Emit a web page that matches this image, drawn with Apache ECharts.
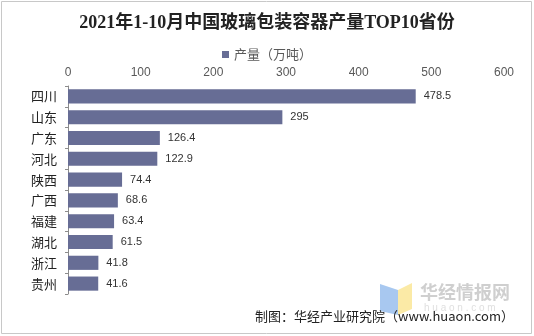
<!DOCTYPE html>
<html><head><meta charset="utf-8">
<script src="https://cdn.jsdelivr.net/npm/echarts@6/dist/echarts.min.js"></script>
<style>html,body{margin:0;padding:0;background:#fff}#c{width:534px;height:336px}</style>
</head><body><div id="c"></div>
<script>
const categories = ['四川','山东','广东','河北','陕西','广西','福建','湖北','浙江','贵州'];
const values = [478.5, 295, 126.4, 122.9, 74.4, 68.6, 63.4, 61.5, 41.8, 41.6];
const xTicks = [0, 100, 200, 300, 400, 500, 600];
const seriesName = '产量（万吨）';
const titleText = '2021年1-10月中国玻璃包装容器产量TOP10省份';
const sourceText = '制图：华经产业研究院（www.huaon.com）';

const chart = echarts.init(document.getElementById('c'), null, {renderer:'canvas'});
chart.setOption({
  animation: false,
  backgroundColor: '#fff',
  title: {
    text: titleText, left: 'center', top: 9,
    textStyle: {fontFamily: '"Liberation Serif","DejaVu Serif","Noto Sans CJK SC",serif', fontWeight: 'bold', fontSize: 18, color: '#222'}
  },
  legend: {
    data: [seriesName], top: 43, left: 'center', itemWidth: 7, itemHeight: 7, itemGap: 4,
    icon: 'rect',
    textStyle: {fontFamily: '"Noto Sans CJK SC",sans-serif', fontSize: 13, color: '#595959'}
  },
  grid: {left: 68, right: 30, top: 86, bottom: 42, containLabel: false},
  xAxis: {
    type: 'value', position: 'top', min: xTicks[0], max: xTicks[xTicks.length-1], interval: 100,
    axisLine: {show: false}, axisTick: {show: false}, splitLine: {show: false},
    axisLabel: {margin: 7, color: '#595959', fontSize: 12, fontFamily: '"Liberation Sans",Arial,sans-serif'}
  },
  yAxis: {
    type: 'category', data: categories, inverse: true,
    axisLine: {show: true, lineStyle: {color: '#8c8c8c', width: 1}},
    axisTick: {show: true, length: 3, lineStyle: {color: '#8c8c8c'}},
    axisLabel: {margin: 11, color: '#222', fontSize: 13, fontFamily: '"Noto Sans CJK SC",sans-serif'}
  },
  series: [{
    name: seriesName, type: 'bar', data: values, barCategoryGap: '32%',
    itemStyle: {color: '#676d95'},
    label: {show: true, position: 'right', distance: 8, color: '#333', fontSize: 11, fontFamily: '"Liberation Sans",Arial,sans-serif'}
  }],
  graphic: [
    {type: 'rect', shape: {x: 1.5, y: 1.5, width: 530, height: 332}, style: {fill: 'none', stroke: '#c8c8c8', lineWidth: 1}, silent: true},
    {type: 'polygon', shape: {points: [[380,284],[398,290],[398,315],[380,311]]}, style: {fill: '#a8c8f0'}, silent: true, z: 1},
    {type: 'polygon', shape: {points: [[398,290],[412,283],[412,309],[398,315]]}, style: {fill: '#fbeaa6'}, silent: true, z: 1},
    {type: 'text', x: 420, y: 283, style: {text: '华经情报网', fontSize: 18, fontWeight: 'bold', fill: '#cfcfcf', fontFamily: '"Noto Sans CJK SC",sans-serif'}, silent: true, z: 1},
    {type: 'text', x: 424, y: 303, style: {text: 'h u a o n . c o m', fontSize: 10, fill: '#e0e0e0', fontFamily: '"Liberation Sans",sans-serif'}, silent: true, z: 1},
    {type: 'text', right: 20, top: 310, style: {text: sourceText, fontSize: 13, fill: '#222', fontFamily: '"Noto Sans CJK SC",sans-serif'}, silent: true, z: 10}
  ]
});
</script></body></html>
